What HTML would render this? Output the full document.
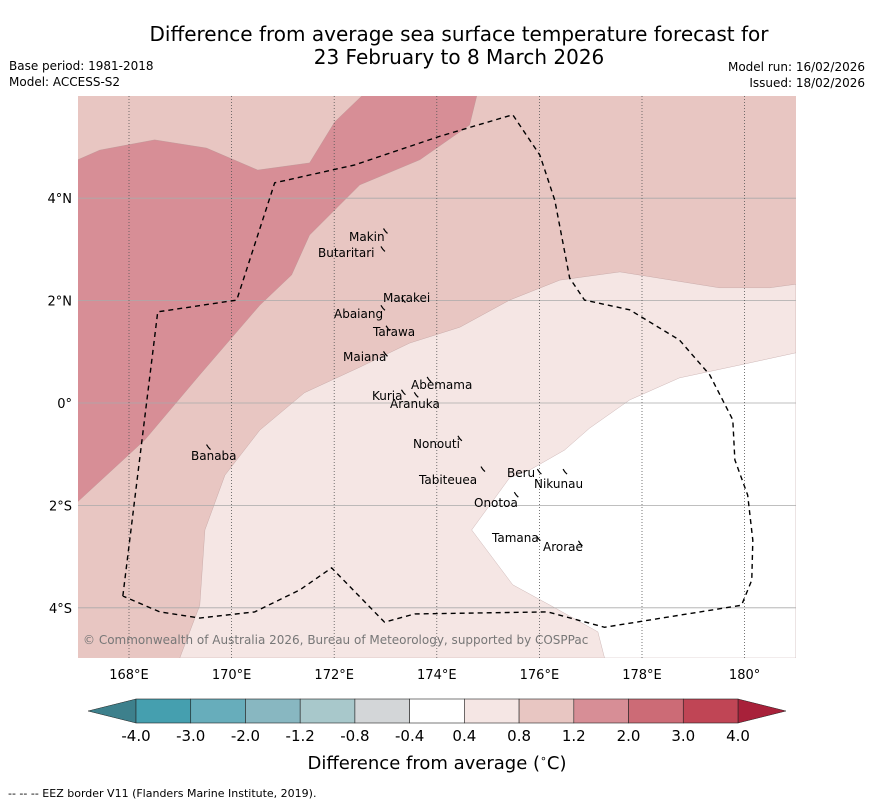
<!DOCTYPE html>
<html><head><meta charset="utf-8">
<style>
body{margin:0;background:#fff;font-family:"DejaVu Sans","Liberation Sans",sans-serif;}
#wrap{position:relative;width:873px;height:804px;overflow:hidden;}
</style></head>
<body>
<div id="wrap">
<svg id="svg" width="873" height="804" xmlns="http://www.w3.org/2000/svg" font-family="DejaVu Sans, Liberation Sans, sans-serif">
<text x="459" y="41" text-anchor="middle" font-size="20">Difference from average sea surface temperature forecast for</text>
<text x="459" y="64" text-anchor="middle" font-size="20">23 February to 8 March 2026</text>
<text x="9" y="70" font-size="12">Base period: 1981-2018</text>
<text x="9" y="86" font-size="12">Model: ACCESS-S2</text>
<text x="865" y="71" font-size="12" text-anchor="end">Model run: 16/02/2026</text>
<text x="865" y="87" font-size="12" text-anchor="end">Issued: 18/02/2026</text>
<defs><clipPath id="mapclip"><rect x="78" y="96" width="718" height="562"/></clipPath></defs>
<g id="map" clip-path="url(#mapclip)"></g>
<g id="axes"></g>
<g id="cbar"></g>
<text x="437" y="769" text-anchor="middle" font-size="18">Difference from average (<tspan font-size="11" dy="-7">∘</tspan><tspan dy="7">C)</tspan></text>
<text x="8" y="797" font-size="11">--  --  -- EEZ border V11 (Flanders Marine Institute, 2019).</text>
</svg>
</div>
<script>
const lonTicks=[168,170,172,174,176,178,180];
const lonLabels=["168°E","170°E","172°E","174°E","176°E","178°E","180°"];
const latTicks=[4,2,0,-2,-4];
const latLabels=["4°N","2°N","0°","2°S","4°S"];
const anomalyBounds=[-4.0,-3.0,-2.0,-1.2,-0.8,-0.4,0.4,0.8,1.2,2.0,3.0,4.0];
const bandColors=["#459faf","#67adbb","#88b7c1","#a8c8cb","#d3d6d8","#ffffff","#f5e6e4","#e8c6c2","#d78e96","#cc6b76","#c04555"];
const contourDark=[[167,4.75],[167.43,4.94],[168.5,5.14],[169.51,4.98],[170.51,4.55],[171.52,4.69],[172.01,5.49],[172.54,6.0],[174.78,6.0],[174.64,5.43],[173.67,4.75],[172.5,4.26],[171.52,3.28],[171.17,2.5],[170.55,1.91],[169.38,0.55],[168.31,-0.72],[167,-1.93]];
const contourLight=[[168.99,-4.98],[169.38,-3.95],[169.48,-2.48],[169.87,-1.41],[170.55,-0.53],[171.42,0.2],[172.5,0.7],[173.47,1.17],[174.45,1.48],[175.42,2.01],[176.4,2.4],[177.57,2.56],[179.51,2.25],[180.49,2.25],[181,2.32],[181,-4.98]];
const contourWhite=[[177.27,-4.98],[177.14,-4.47],[176.3,-4.0],[175.48,-3.55],[174.68,-2.48],[175.42,-1.46],[175.81,-1.31],[176.49,-0.92],[176.98,-0.49],[177.76,0.06],[178.73,0.49],[179.9,0.74],[181,0.98],[181,-4.98]];
const eezLon=[167.88,168.56,170.10,170.84,172.40,174.06,175.48,176.01,176.30,176.59,176.88,177.76,178.73,179.32,179.77,179.81,180.06,180.16,180.14,179.94,177.27,176.16,173.57,172.98,171.95,171.33,170.45,169.38,168.60,167.88];
const eezLat=[-3.77,1.78,2.01,4.30,4.65,5.21,5.63,4.84,3.96,2.44,2.01,1.82,1.23,0.55,-0.33,-1.11,-1.80,-2.68,-3.46,-3.95,-4.38,-4.08,-4.12,-4.28,-3.22,-3.65,-4.08,-4.20,-4.08,-3.77];
const islandNames=["Makin","Butaritari","Marakei","Abaiang","Tarawa","Maiana","Abemama","Kuria","Aranuka","Nonouti","Banaba","Beru","Nikunau","Tabiteuea","Onotoa","Tamana","Arorae"];
const islandLon=[173.0,172.95,173.35,172.95,173.05,173.0,173.85,173.35,173.6,174.45,169.55,176.0,176.5,174.9,175.55,175.98,176.8];
const islandLat=[3.35,3.0,2.0,1.85,1.45,0.95,0.45,0.2,0.15,-0.7,-0.87,-1.35,-1.35,-1.3,-1.8,-2.65,-2.75];
const labelX=[349,318,383,334,373,343,411,372,390,413,191,507,534,419,474,492,543];
const labelY=[241,257,302,318,336,361,389,400,408,448,460,477,488,484,507,542,551];

const X=lon=>129+(lon-168)*51.3;
const Y=lat=>403-lat*51.2;
const NS="http://www.w3.org/2000/svg";
function mk(tag,attrs,parent){const e=document.createElementNS(NS,tag);for(const k in attrs)e.setAttribute(k,attrs[k]);parent.appendChild(e);return e;}
const map=document.getElementById('map'), axes=document.getElementById('axes'), cbar=document.getElementById('cbar');
const bg=mk('rect',{x:78,y:96,width:718,height:562,fill:bandColors[7]},map);


function poly(pts,fill,name){const p=mk('polygon',{points:pts.map(q=>X(q[0])+','+Y(q[1])).join(' '),fill:fill,stroke:'#b09090','stroke-width':0.3},map);

}
poly(contourDark,bandColors[8],'band-1.2-2.0');
poly(contourLight,bandColors[6],'band-0.4-0.8');
poly(contourWhite,bandColors[5],'band-neutral');
latTicks.forEach((t,i)=>{const l=mk('line',{x1:78,x2:796,y1:Y(t),y2:Y(t),stroke:'#aaa','stroke-width':0.8},map);

});
lonTicks.forEach((t,i)=>{const l=mk('line',{x1:X(t),x2:X(t),y1:96,y2:658,stroke:'#555','stroke-width':0.8,'stroke-dasharray':'1,2'},map);

});
const eez=mk('polyline',{points:eezLon.map((v,i)=>X(v)+','+Y(eezLat[i])).join(' '),fill:'none',stroke:'#000','stroke-width':1.4,'stroke-dasharray':'5,4'},map);


islandNames.forEach((n,i)=>{
const m=mk('path',{d:`M${X(islandLon[i])-2},${Y(islandLat[i])-3} l2,3 l2,2`,stroke:'#000','stroke-width':1.2,fill:'none'},map);


const t=mk('text',{x:labelX[i],y:labelY[i],'font-size':12,fill:'#000'},map);t.textContent=n;

});
const cp=mk('text',{x:83,y:644,'font-size':12,fill:'#777'},map);cp.textContent='© Commonwealth of Australia 2026, Bureau of Meteorology, supported by COSPPac';


lonTicks.forEach((t,i)=>{const tx=mk('text',{x:X(t),y:679,'font-size':13,'text-anchor':'middle'},axes);tx.textContent=lonLabels[i];

});
latTicks.forEach((t,i)=>{const tx=mk('text',{x:72,y:Y(t)+5,'font-size':13,'text-anchor':'end'},axes);tx.textContent=latLabels[i];

});
const cx0=136,cw=(738-136)/bandColors.length,cy=699,ch=24;
const lt=mk('polygon',{points:`${cx0},${cy} ${cx0},${cy+ch} 88,${cy+ch/2}`,fill:'#3d808c',stroke:'#222','stroke-width':0.5},cbar);


const rt=mk('polygon',{points:`738,${cy} 738,${cy+ch} 786,${cy+ch/2}`,fill:'#a8213a',stroke:'#222','stroke-width':0.5},cbar);


bandColors.forEach((c,i)=>{const r=mk('rect',{x:cx0+i*cw,y:cy,width:cw,height:ch,fill:c,stroke:'#222','stroke-width':0.6},cbar);

});
anomalyBounds.forEach((b,i)=>{const t=mk('text',{x:cx0+i*cw,y:741,'font-size':15,'text-anchor':'middle'},cbar);t.textContent=b.toFixed(1);

});
</script>
</body></html>
